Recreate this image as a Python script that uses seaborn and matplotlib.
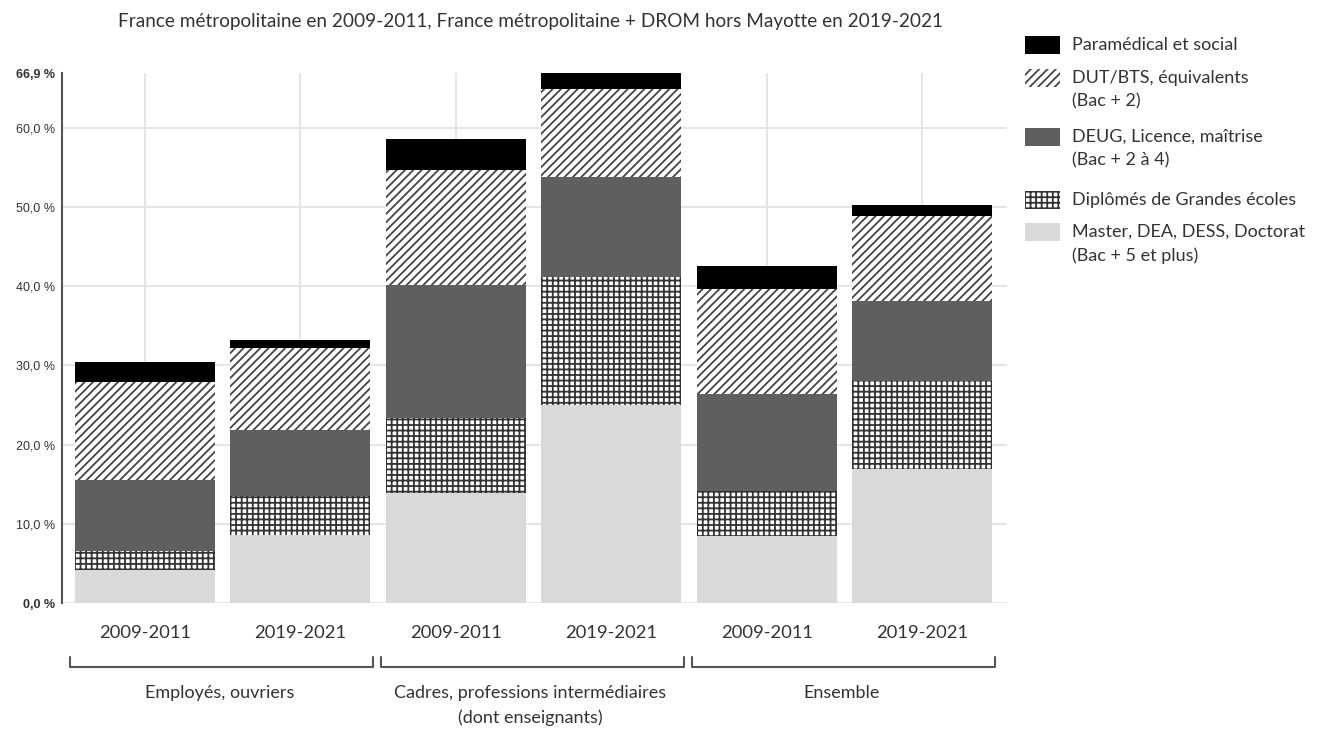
import matplotlib
matplotlib.use("Agg")
import matplotlib.pyplot as plt
import matplotlib.transforms as mtransforms
from matplotlib.patches import Rectangle
from matplotlib.lines import Line2D
import seaborn as sns
import pandas as pd
import numpy as np

# ---------------- data ----------------
bar_ids = ["EO 2009-2011", "EO 2019-2021", "CP 2009-2011", "CP 2019-2021", "EN 2009-2011", "EN 2019-2021"]
period_labels = ["2009-2011", "2019-2021", "2009-2011", "2019-2021", "2009-2011", "2019-2021"]
group_labels = ["Employés, ouvriers", "Cadres, professions intermédiaires\n(dont enseignants)", "Ensemble"]

master = [4.2, 8.6, 13.9, 25.0, 8.5, 16.9]
grandes_ecoles = [2.4, 4.9, 9.4, 16.1, 5.6, 11.1]
deug = [8.9, 8.3, 16.9, 12.7, 12.3, 10.1]
dut = [12.4, 10.4, 14.5, 11.1, 13.2, 10.7]
paramedical = [2.5, 1.0, 3.9, 2.0, 2.9, 1.5]

series_names = ["Master, DEA, DESS, Doctorat\n(Bac + 5 et plus)",
                "Diplômés de Grandes écoles",
                "DEUG, Licence, maîtrise\n(Bac + 2 à 4)",
                "DUT/BTS, équivalents\n(Bac + 2)",
                "Paramédical et social"]
y_ticks = [0, 10, 20, 30, 40, 50, 60, 66.9]
y_ticklabels = ["0,0 %", "10,0 %", "20,0 %", "30,0 %", "40,0 %", "50,0 %", "60,0 %", "66,9 %"]
title = "France métropolitaine en 2009-2011, France métropolitaine + DROM hors Mayotte en 2019-2021"

# ---------------- style ----------------
sns.set_theme(style="white")
plt.rcParams["font.family"] = ["Lato", "DejaVu Sans"]
plt.rcParams["hatch.linewidth"] = 1.3
TXT = "#333333"

W, H = 1317, 731
fig = plt.figure(figsize=(W / 100, H / 100), dpi=100)
ax = fig.add_axes([62 / W, 1 - 603 / H, (1007 - 62) / W, (603 - 73) / H])

layers = [
    (master, dict(color="#d9d9d9", linewidth=0)),
    (grandes_ecoles, dict(color="white", edgecolor="#333333", hatch="+++", linewidth=0)),
    (deug, dict(color="#5f5f5f", linewidth=0)),
    (dut, dict(color="white", edgecolor="#444444", hatch="////", linewidth=0)),
    (paramedical, dict(color="black", linewidth=0)),
]

bottom = np.zeros(len(bar_ids))
for vals, style in layers:
    df = pd.DataFrame({"bar": bar_ids, "val": vals})
    sns.barplot(data=df, x="bar", y="val", order=bar_ids, bottom=bottom,
                width=0.9, saturation=1, ax=ax, zorder=3, **style)
    bottom = bottom + np.array(vals)

ax.set_xlim(-0.534, 5.547)
ax.set_ylim(0, 66.9)
ax.set_xlabel("")
ax.set_ylabel("")

# y axis
ax.set_yticks(y_ticks)
ax.set_yticklabels(y_ticklabels)
for i, lab in enumerate(ax.get_yticklabels()):
    lab.set_fontfamily(["Liberation Sans", "DejaVu Sans"])
    lab.set_fontsize(9)
    lab.set_color(TXT)
    if i in (0, len(y_ticks) - 1):
        lab.set_fontweight("bold")
ax.tick_params(axis="y", length=0, pad=5)

# x axis
ax.set_xticks(range(len(bar_ids)))
ax.set_xticklabels(period_labels, fontsize=13.2, color=TXT)
ax.tick_params(axis="x", length=0, pad=16)

# grid
ax.grid(True, axis="both", color="#e3e3e3", linewidth=1.3, zorder=0)
ax.set_axisbelow(True)
ygl = ax.yaxis.get_gridlines()
ygl[-1].set_visible(False)

for s in ["top", "right", "bottom"]:
    ax.spines[s].set_visible(False)
ax.spines["left"].set_color("#555555")
ax.spines["left"].set_linewidth(1.5)

# group brackets and labels
trans = mtransforms.blended_transform_factory(ax.transData, fig.transFigure)
y_br = 1 - 667 / H
y_tk = 1 - 657 / H
for g, lab in enumerate(group_labels):
    x0, x1 = 2 * g - 0.48, 2 * g + 1.47
    fig.add_artist(Line2D([x0, x0, x1, x1], [y_tk, y_br, y_br, y_tk], transform=trans,
                          color="#555555", linewidth=1.5))
    fig.text(2 * g + 0.48, 1 - 685 / H, lab, transform=trans, ha="center", va="top",
             fontsize=13, color=TXT, linespacing=1.6)

# title
fig.text(530 / W, 1 - 21 / H, title, ha="center", va="center", fontsize=13.7, color=TXT)

# legend (manual)
leg_items = [
    (series_names[4], dict(facecolor="black", edgecolor="black", linewidth=0), 45),
    (series_names[3], dict(facecolor="white", edgecolor="#444444", hatch="////", linewidth=0), 78),
    (series_names[2], dict(facecolor="#5f5f5f", edgecolor="#5f5f5f", linewidth=0), 137),
    (series_names[1], dict(facecolor="white", edgecolor="#333333", hatch="+++", linewidth=0), 200),
    (series_names[0], dict(facecolor="#d9d9d9", edgecolor="#d9d9d9", linewidth=0), 232),
]
for lab, st, yc in leg_items:
    r = Rectangle((1025 / W, 1 - (yc + 9) / H), 35 / W, 18 / H, transform=fig.transFigure, **st)
    fig.add_artist(r)
    fig.text(1072 / W, 1 - (yc - 8) / H, lab, ha="left", va="top", fontsize=13,
             color=TXT, linespacing=1.55)

fig.savefig("out.png", dpi=100, facecolor="white")
